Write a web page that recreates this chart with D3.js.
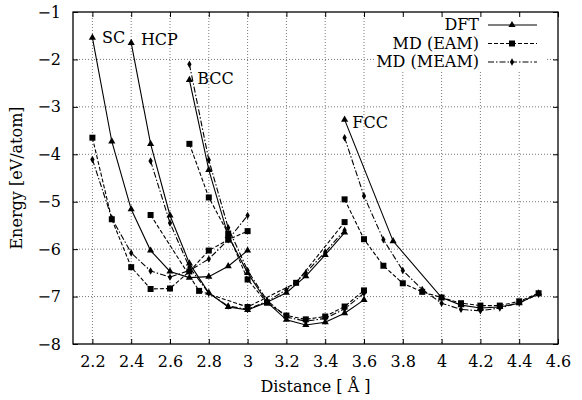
<!DOCTYPE html>
<html>
<head>
<meta charset="utf-8">
<script src="https://cdn.jsdelivr.net/npm/d3@7"></script>
<style>
  body { margin: 0; background: #fff; }
  text { font-family: "DejaVu Serif", serif; font-size: 16px; fill: #000; }
</style>
</head>
<body>
<svg id="chart" width="582" height="400"></svg>
<script>
// tick labels
const xTicks = [2.2, 2.4, 2.6, 2.8, 3, 3.2, 3.4, 3.6, 3.8, 4, 4.2, 4.4, 4.6]
const yTicks = [-1, -2, -3, -4, -5, -6, -7, -8]

// SC
const scDist = [2.2, 2.3, 2.4, 2.5, 2.6, 2.7, 2.8, 2.9, 3.0]
const dftSC  = [-1.54, -3.73, -5.16, -6.03, -6.47, -6.6, -6.58, -6.36, -6.03]
const eamSC  = [-3.65, -5.37, -6.38, -6.84, -6.83, -6.47, -6.03, -5.8, -5.62]
const meamSC = [-4.11, -5.35, -6.08, -6.46, -6.59, -6.45, -6.21, -5.8, -5.29]

// HCP
const dftHcpDist  = [2.4, 2.5, 2.6, 2.7, 2.8, 2.9, 3.0, 3.1, 3.2, 3.3, 3.4, 3.5]
const dftHCP      = [-1.65, -3.78, -5.29, -6.3, -6.92, -7.22, -7.28, -7.12, -6.92, -6.57, -6.12, -5.65]
const eamHcpDist  = [2.5, 2.75, 3.0, 3.25, 3.5]
const eamHCP      = [-5.28, -6.88, -7.22, -6.71, -5.43]
const meamHcpDist = [2.5, 2.6, 2.7, 2.8, 2.9, 3.0, 3.1, 3.2, 3.3, 3.4, 3.5]
const meamHCP     = [-4.14, -5.45, -6.38, -6.93, -7.2, -7.27, -7.1, -6.86, -6.5, -6.06, -5.6]

// BCC
const bccDist = [2.7, 2.8, 2.9, 3.0, 3.1, 3.2, 3.3, 3.4, 3.5, 3.6]
const dftBCC  = [-2.43, -4.33, -5.72, -6.5, -7.12, -7.49, -7.6, -7.54, -7.35, -7.07]
const eamBCC  = [-3.78, -4.91, -5.67, -6.64, -7.13, -7.4, -7.48, -7.42, -7.21, -6.87]
const meamBCC = [-2.1, -4.12, -5.55, -6.45, -7.08, -7.43, -7.52, -7.46, -7.26, -6.93]

// FCC
const dftFccDist = [3.5, 3.75, 4.0, 4.1, 4.2, 4.3, 4.4, 4.5]
const dftFCC     = [-3.27, -5.83, -7.02, -7.18, -7.24, -7.22, -7.14, -6.93]
const fccDist    = [3.5, 3.6, 3.7, 3.8, 3.9, 4.0, 4.1, 4.2, 4.3, 4.4, 4.5]
const eamFCC     = [-4.95, -5.79, -6.35, -6.72, -6.9, -7.02, -7.14, -7.19, -7.19, -7.1, -6.93]
const meamFCC    = [-3.65, -4.88, -5.8, -6.45, -6.85, -7.14, -7.27, -7.3, -7.24, -7.13, -6.95]

const methods = ["DFT", "MD (EAM)", "MD (MEAM)"]
const structLabels = [
  {text: "SC", x: 2.25, y: -1.65},
  {text: "HCP", x: 2.45, y: -1.7},
  {text: "BCC", x: 2.74, y: -2.52},
  {text: "FCC", x: 3.54, y: -3.44}
]

const curves = [
  {m: 0, xs: scDist, ys: dftSC}, {m: 1, xs: scDist, ys: eamSC}, {m: 2, xs: scDist, ys: meamSC},
  {m: 0, xs: dftHcpDist, ys: dftHCP}, {m: 1, xs: eamHcpDist, ys: eamHCP}, {m: 2, xs: meamHcpDist, ys: meamHCP},
  {m: 0, xs: bccDist, ys: dftBCC}, {m: 1, xs: bccDist, ys: eamBCC}, {m: 2, xs: bccDist, ys: meamBCC},
  {m: 0, xs: dftFccDist, ys: dftFCC}, {m: 1, xs: fccDist, ys: eamFCC}, {m: 2, xs: fccDist, ys: meamFCC}
]

const dashes = [null, "4,2", "6,2,1.5,2"]
const symbols = [d3.symbolTriangle, d3.symbolSquare, d3.symbolDiamond]
const symSize = [22, 36, 16]

const mLeft = 73, mRight = 558, mTop = 12, mBottom = 344
const x = d3.scaleLinear().domain([2.1, 4.6]).range([mLeft, mRight])
const y = d3.scaleLinear().domain([-8, -1]).range([mBottom, mTop])

const svg = d3.select("#chart")

// grid
const grid = svg.append("g").attr("stroke", "#555").attr("stroke-width", 0.8).attr("stroke-dasharray", "1,2")
grid.selectAll(".gx").data(xTicks.slice(0, -1)).join("line")
  .attr("x1", d => x(d)).attr("x2", d => x(d)).attr("y1", mTop).attr("y2", mBottom)
grid.selectAll(".gy").data(yTicks.slice(1, -1)).join("line")
  .attr("x1", mLeft).attr("x2", mRight).attr("y1", d => y(d)).attr("y2", d => y(d))

// legend background hides the grid
svg.append("rect").attr("x", 374).attr("y", mTop + 1).attr("width", 172).attr("height", 58).attr("fill", "#fff")

// curves
const line = d3.line().x(d => x(d[0])).y(d => y(d[1]))
curves.forEach(c => {
  const pts = c.xs.map((v, i) => [v, c.ys[i]])
  svg.append("path").datum(pts)
    .attr("d", line).attr("fill", "none").attr("stroke", "#000").attr("stroke-width", 1.1)
    .attr("stroke-dasharray", dashes[c.m])
  svg.append("g").selectAll("path").data(pts).join("path")
    .attr("transform", d => `translate(${x(d[0])},${y(d[1])})`)
    .attr("d", d3.symbol().type(symbols[c.m]).size(symSize[c.m]))
    .attr("fill", "#000")
})

// axes, ticks inward on all four sides
const fmtMinus = d => d3.format("")(d).replace("-", "\u2212")
const axB = svg.append("g").attr("transform", `translate(0,${mBottom})`)
  .call(d3.axisBottom(x).tickValues(xTicks).tickSize(-5).tickPadding(12).tickFormat(d3.format("")))
const axT = svg.append("g").attr("transform", `translate(0,${mTop})`)
  .call(d3.axisTop(x).tickValues(xTicks).tickSize(-5).tickFormat(""))
const axL = svg.append("g").attr("transform", `translate(${mLeft},0)`)
  .call(d3.axisLeft(y).tickValues(yTicks).tickSize(-5).tickPadding(12).tickFormat(fmtMinus))
const axR = svg.append("g").attr("transform", `translate(${mRight},0)`)
  .call(d3.axisRight(y).tickValues(yTicks).tickSize(-5).tickFormat(""))
;[axB, axT, axL, axR].forEach(a => {
  a.select(".domain").remove()
  a.selectAll("line").attr("stroke", "#000")
  a.selectAll("text").attr("font-family", "DejaVu Serif, serif").attr("font-size", 16)
})

svg.append("rect").attr("x", mLeft).attr("y", mTop).attr("width", mRight - mLeft).attr("height", mBottom - mTop)
  .attr("fill", "none").attr("stroke", "#000").attr("stroke-width", 1.3)

// structure labels
svg.selectAll(".slab").data(structLabels).join("text")
  .attr("x", d => x(d.x)).attr("y", d => y(d.y)).text(d => d.text)

// legend
const lg = svg.append("g")
methods.forEach((m, i) => {
  const ly = 25 + i * 18.5
  lg.append("text").attr("x", 479).attr("y", ly + 5).attr("text-anchor", "end").text(m)
  lg.append("line").attr("x1", 488).attr("x2", 537).attr("y1", ly).attr("y2", ly)
    .attr("stroke", "#000").attr("stroke-width", 1.1).attr("stroke-dasharray", dashes[i])
  lg.append("path").attr("transform", `translate(512,${ly})`)
    .attr("d", d3.symbol().type(symbols[i]).size(symSize[i]))
})

// axis titles
svg.append("text").attr("x", (mLeft + mRight) / 2).attr("y", 392).attr("text-anchor", "middle")
  .text("Distance [ Å ]")
svg.append("text").attr("transform", `translate(22,${(mTop + mBottom) / 2}) rotate(-90)`)
  .attr("text-anchor", "middle").text("Energy [eV/atom]")
</script>
</body>
</html>
